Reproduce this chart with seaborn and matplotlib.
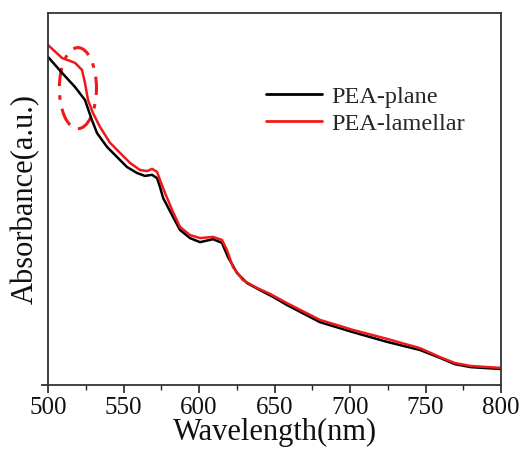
import numpy as np
import pandas as pd
import seaborn as sns
import matplotlib.pyplot as plt
from matplotlib.patches import Ellipse
from matplotlib.ticker import MultipleLocator

# Absorption spectra (arbitrary units)
wl_plane = [500, 509.3, 517.9, 524.5, 529.1, 532.5, 539.1, 545.7, 552.3, 558.9,
            564.2, 568.9, 572.2, 574.2, 576.2, 582.8, 587.4, 594.0, 600.7, 609.3,
            615.2, 619.2, 625.2, 631.8, 640.4, 649.0, 658.3, 680.1, 702, 724.5,
            746.4, 759.6, 769.5, 780.1, 800]
abs_plane = [0.882, 0.839, 0.801, 0.766, 0.712, 0.677, 0.640, 0.613, 0.586, 0.570,
             0.562, 0.565, 0.556, 0.532, 0.503, 0.452, 0.417, 0.395, 0.384, 0.392,
             0.382, 0.344, 0.301, 0.274, 0.255, 0.237, 0.215, 0.169, 0.142, 0.116,
             0.094, 0.073, 0.056, 0.048, 0.043]

wl_lamellar = [500, 509.3, 517.9, 522.5, 524.5, 526.5, 529.8, 534.4, 541.1, 547.7,
               554.3, 560.9, 565.6, 568.9, 572.2, 574.2, 577.5, 582.8, 587.4, 594.0,
               600.7, 609.3, 615.2, 618.5, 622.5, 629.1, 638.4, 647.0, 658.3, 680.1,
               702, 724.5, 746.4, 759.6, 769.5, 780.1, 800]
abs_lamellar = [0.914, 0.879, 0.866, 0.847, 0.812, 0.766, 0.731, 0.694, 0.651, 0.624,
                0.597, 0.578, 0.575, 0.581, 0.573, 0.551, 0.516, 0.465, 0.425, 0.403,
                0.395, 0.398, 0.390, 0.363, 0.317, 0.282, 0.261, 0.245, 0.220, 0.175,
                0.148, 0.124, 0.099, 0.075, 0.059, 0.051, 0.046]

series_names = ["PEA-plane", "PEA-lamellar"]
series_colors = ["#000000", "#ee1a1a"]

df = pd.concat([
    pd.DataFrame({"wl": wl_plane, "abs": abs_plane, "sample": series_names[0]}),
    pd.DataFrame({"wl": wl_lamellar, "abs": abs_lamellar, "sample": series_names[1]}),
])

sns.set_style("ticks")
plt.rcParams["font.family"] = ["Liberation Serif", "DejaVu Serif"]
plt.rcParams["mathtext.fontset"] = "stix"

fig = plt.figure(figsize=(5.32, 4.57), dpi=100)
ax = fig.add_axes([48 / 532, 1 - 385 / 457, 453 / 532, 372 / 457])

sns.lineplot(data=df, x="wl", y="abs", hue="sample", palette=series_colors,
             hue_order=series_names, sort=False, linewidth=1.8, ax=ax, legend=True)
for line in ax.get_lines():
    line.set_solid_joinstyle("round")
    line.set_solid_capstyle("round")

ax.set_xlim(500, 800)
ax.set_ylim(0, 1)
ax.xaxis.set_major_locator(MultipleLocator(50))
ax.xaxis.set_minor_locator(MultipleLocator(25))
ax.set_yticks([0])
ax.set_yticklabels([""])
ax.tick_params(axis="x", which="major", direction="out", length=6, width=1.2,
               labelsize=18, pad=3, colors="#222222", labelcolor="#111111")
ax.tick_params(axis="x", which="minor", direction="out", length=3.5, width=1.0,
               colors="#222222")
ax.tick_params(axis="y", direction="out", length=5, width=1.2, colors="#222222")
for s in ax.spines.values():
    s.set_visible(True)
    s.set_linewidth(1.3)
    s.set_color("#333333")

ax.set_xlabel("Wavelength(nm)", fontsize=22, labelpad=-1, color="#111111")
ax.set_ylabel("Absorbance(a.u.)", fontsize=22, labelpad=-3, color="#111111")

# dash-dot ellipse highlighting the shoulder of the lamellar film
ax.add_patch(Ellipse((0.066, 0.798), 0.082, 0.218, angle=0, transform=ax.transAxes,
                     fill=False, edgecolor=series_colors[1], linewidth=2.2,
                     linestyle=(0, (6, 3, 1.5, 3))))

leg = ax.legend(loc="upper left", bbox_to_anchor=(0.46, 0.83), frameon=False,
                fontsize=17.5, handlelength=2.3, handletextpad=0.4,
                labelspacing=0.2, borderaxespad=0)
for line in leg.get_lines():
    line.set_linewidth(2.0)

fig.savefig("out.png", dpi=100)
